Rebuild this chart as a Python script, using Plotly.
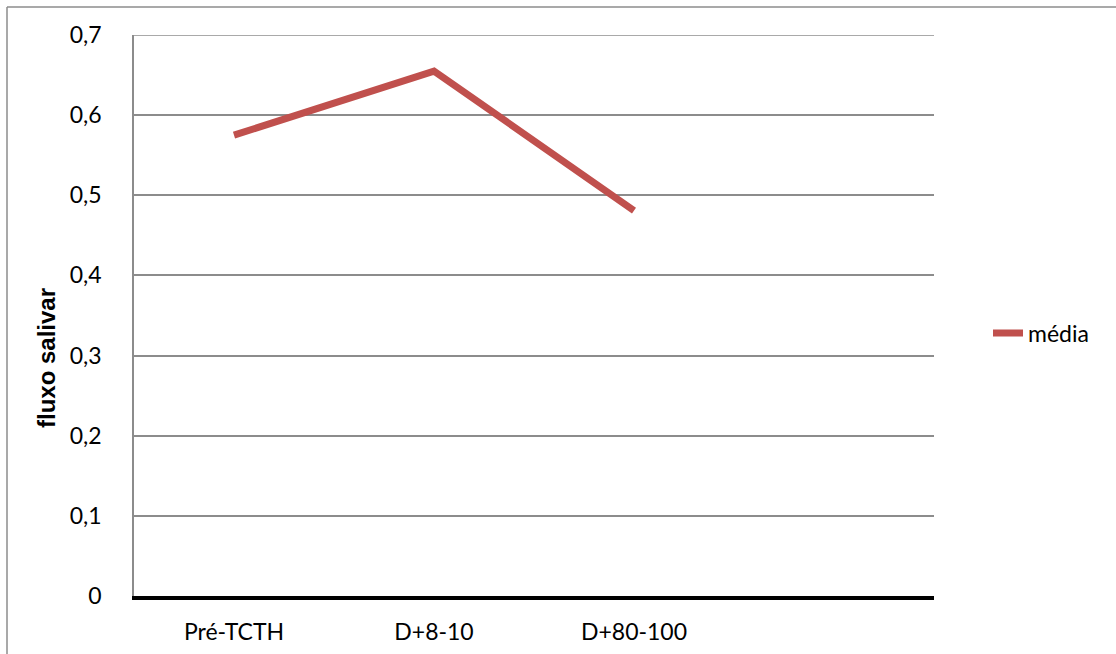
import plotly.graph_objects as go

# Saliva flow (mean) at each time point
categories = ["Pré-TCTH", "D+8-10", "D+80-100", ""]
media = [0.575, 0.655, 0.481]
y_ticks = [0, 0.1, 0.2, 0.3, 0.4, 0.5, 0.6, 0.7]
y_tick_text = ["0", "0,1", "0,2", "0,3", "0,4", "0,5", "0,6", "0,7"]

W, H = 1116, 654
ML, MR, MT, MB = 134, 182, 35, 58
pw, ph = W - ML - MR, H - MT - MB


def px_x(px):
    return (px - ML) / pw


def px_y(py):
    return (MT + ph - py) / ph


fig = go.Figure()
fig.add_trace(go.Scatter(
    x=list(range(len(media))),
    y=media,
    mode="lines",
    name="média",
    line=dict(color="#C0504D", width=7),
))

fig.update_layout(
    width=W, height=H,
    margin=dict(l=ML, r=MR, t=MT, b=MB, autoexpand=False),
    paper_bgcolor="white",
    plot_bgcolor="white",
    font=dict(family="Lato, Open Sans, sans-serif", size=23, color="black"),
    showlegend=True,
    legend=dict(
        x=px_x(988), y=px_y(333),
        xanchor="left", yanchor="middle",
        font=dict(size=23, family="Lato, Open Sans, sans-serif"),
        bgcolor="rgba(0,0,0,0)",
        itemwidth=30,
    ),
    xaxis=dict(
        range=[-0.5, len(categories) - 0.5],
        tickvals=list(range(len(categories))),
        ticktext=categories,
        showgrid=False,
        zeroline=False,
        showline=True,
        linecolor="black",
        linewidth=4,
        ticks="",
        ticklabelstandoff=12,
        tickfont=dict(size=23),
        automargin=False,
    ),
    yaxis=dict(
        range=[y_ticks[0], y_ticks[-1]],
        tickvals=y_ticks,
        ticktext=y_tick_text,
        showgrid=True,
        gridcolor="#8c8c8c",
        gridwidth=1.5,
        zeroline=False,
        showline=True,
        linecolor="#8c8c8c",
        linewidth=1.5,
        ticks="",
        ticklabelstandoff=26,
        tickfont=dict(size=23),
        automargin=False,
    ),
    annotations=[
        dict(
            text="<b>fluxo salivar</b>",
            xref="paper", yref="paper",
            x=px_x(47), y=px_y(358),
            xanchor="center", yanchor="middle",
            textangle=-90, showarrow=False,
            font=dict(family="Liberation Sans, Arial, sans-serif", size=24),
        ),
    ],
    shapes=[
        # top gridline at the axis maximum
        dict(type="line", xref="paper", yref="y",
             x0=0, x1=1, y0=y_ticks[-1], y1=y_ticks[-1],
             line=dict(color="#8c8c8c", width=1.5), layer="below"),
        # outer chart frame (left and top edges)
        dict(type="line", xref="paper", yref="paper",
             x0=px_x(7), x1=px_x(7),
             y0=px_y(H + 5), y1=px_y(7),
             line=dict(color="#8c8c8c", width=1.5)),
        dict(type="line", xref="paper", yref="paper",
             x0=px_x(7), x1=px_x(W + 5),
             y0=px_y(7), y1=px_y(7),
             line=dict(color="#8c8c8c", width=1.5)),
    ],
)

fig.write_html("out.html")
